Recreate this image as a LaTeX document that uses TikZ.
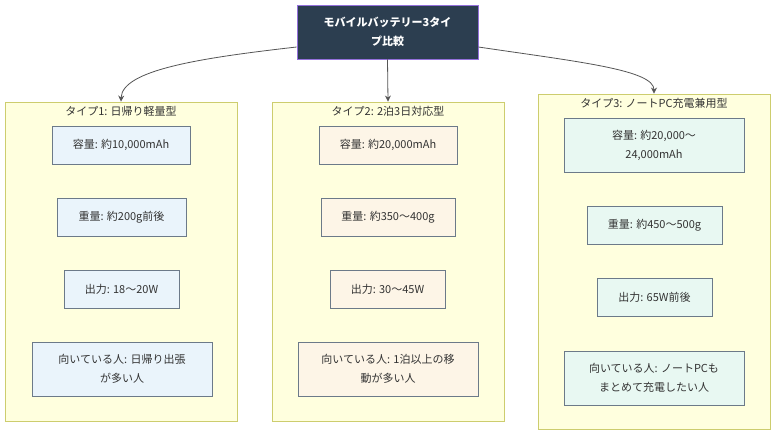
\documentclass[tikz,border=0pt]{standalone}
\usepackage{fontspec}
\setmainfont{Noto Sans CJK JP}
\usetikzlibrary{arrows.meta}
\definecolor{topfill}{HTML}{2C3E50}
\definecolor{topborder}{HTML}{9370DB}
\definecolor{grpfill}{HTML}{FFFFDE}
\definecolor{grpborder}{HTML}{CDCD6E}
\definecolor{bluefill}{HTML}{EAF4FB}
\definecolor{beigefill}{HTML}{FDF5E7}
\definecolor{greenfill}{HTML}{E8F8F2}
\definecolor{boxborder}{HTML}{6C7A89}
\definecolor{txt}{HTML}{333333}
\definecolor{edge}{HTML}{555555}
\tikzset{
  grp/.style={draw=grpborder, fill=grpfill, line width=0.9pt, inner sep=0pt},
  grptitle/.style={text=txt, font=\fontsize{11}{13}\selectfont, inner sep=0pt},
  item/.style={draw=boxborder, line width=0.8pt, text=txt, align=center,
    font=\fontsize{11}{19}\selectfont, inner sep=0pt, minimum height=38pt},
  b/.style={item, fill=bluefill},
  e/.style={item, fill=beigefill},
  g/.style={item, fill=greenfill},
  arr/.style={draw=edge, line width=0.8pt, -{Stealth[length=6pt,width=6pt]}}
}
\begin{document}
\begin{tikzpicture}[x=1pt,y=-1pt]
\useasboundingbox[fill=white] (0,0) rectangle (784,440);
% groups
\node[grp, minimum width=232pt, minimum height=319pt] (g1) at (121,261.5) {};
\node[grp, minimum width=232pt, minimum height=319pt] (g2) at (388,261.5) {};
\node[grp, minimum width=232pt, minimum height=335pt] (g3) at (654,261.5) {};
\node[grptitle] (t1) at (121,111) {タイプ1: 日帰り軽量型};
\node[grptitle] (t2) at (388,111) {タイプ2: 2泊3日対応型};
\node[grptitle] (t3) at (654,103) {タイプ3: ノートPC充電兼用型};
% top
\node[draw=topborder, fill=topfill, line width=0.8pt, text=white, align=center,
  font=\bfseries\fontsize{11}{19}\selectfont, minimum width=181pt, minimum height=54pt, inner sep=0pt]
  (top) at (387.5,32) {モバイルバッテリー3タイ\\プ比較};
% group 1
\node[b, minimum width=138pt] (cap1) at (121,145) {容量: 約10,000mAh};
\node[b, minimum width=129pt] (wt1) at (121.5,217) {重量: 約200g前後};
\node[b, minimum width=115pt] (out1) at (121.5,289) {出力: 18〜20W};
\node[b, minimum width=180pt, minimum height=54pt] (who1) at (122,369) {向いている人: 日帰り出張\\が多い人};
% group 2
\node[e, minimum width=138pt] (cap2) at (388,145) {容量: 約20,000mAh};
\node[e, minimum width=134pt] (wt2) at (388,217) {重量: 約350〜400g};
\node[e, minimum width=115pt] (out2) at (387.5,289) {出力: 30〜45W};
\node[e, minimum width=180pt, minimum height=54pt] (who2) at (388,369) {向いている人: 1泊以上の移\\動が多い人};
% group 3
\node[g, minimum width=180pt, minimum height=54pt] (cap3) at (654,145) {容量: 約20,000〜\\24,000mAh};
\node[g, minimum width=135pt] (wt3) at (654.5,225.5) {重量: 約450〜500g};
\node[g, minimum width=115pt] (out3) at (654.5,297.5) {出力: 65W前後};
\node[g, minimum width=180pt, minimum height=54pt] (who3) at (654,378) {向いている人: ノートPCも\\まとめて充電したい人};
% connectors
\draw[arr] ([yshift=-15pt]top.west) .. controls (200,58) and (122,70) .. (g1.north);
\draw[arr] (top.south) -- (g2.north);
\draw[arr] ([yshift=-15pt]top.east) .. controls (580,62) and (654,70) .. (g3.north);
\end{tikzpicture}
\end{document}
